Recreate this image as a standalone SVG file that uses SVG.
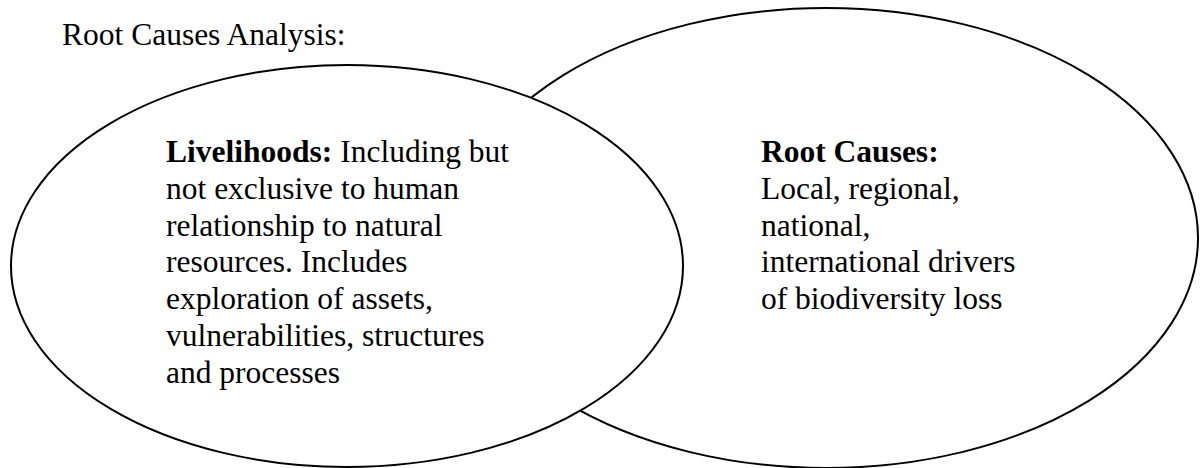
<svg xmlns="http://www.w3.org/2000/svg" width="1200" height="468" viewBox="0 0 1200 468">
  <style>
    .shape { fill: #ffffff; stroke: #000000; stroke-width: 2; }
    .t { font-family: "Liberation Serif", "Times New Roman", serif; font-size: 31.5px; fill: #000000; }
    .b { font-weight: bold; }
  </style>
  <rect x="0" y="0" width="1200" height="468" fill="#ffffff"/>
  <text id="title" class="t" x="62" y="45">Root Causes Analysis:</text>
  <g id="root-causes">
    <ellipse class="shape" cx="826" cy="238" rx="372" ry="230"/>
    <text class="t" x="761" y="162"><tspan class="b">Root Causes:</tspan></text>
    <text class="t" x="761" y="198.8">Local, regional,</text>
    <text class="t" x="761" y="235.6">national,</text>
    <text class="t" x="761" y="272.4">international drivers</text>
    <text class="t" x="761" y="309.2">of biodiversity loss</text>
  </g>
  <g id="livelihoods">
    <ellipse class="shape" cx="347" cy="266" rx="336" ry="201"/>
    <text class="t" x="166" y="162"><tspan class="b">Livelihoods:</tspan> Including but</text>
    <text class="t" x="166" y="198.8">not exclusive to human</text>
    <text class="t" x="166" y="235.6">relationship to natural</text>
    <text class="t" x="166" y="272.4">resources. Includes</text>
    <text class="t" x="166" y="309.2">exploration of assets,</text>
    <text class="t" x="166" y="346">vulnerabilities, structures</text>
    <text class="t" x="166" y="382.8">and processes</text>
  </g>
</svg>
